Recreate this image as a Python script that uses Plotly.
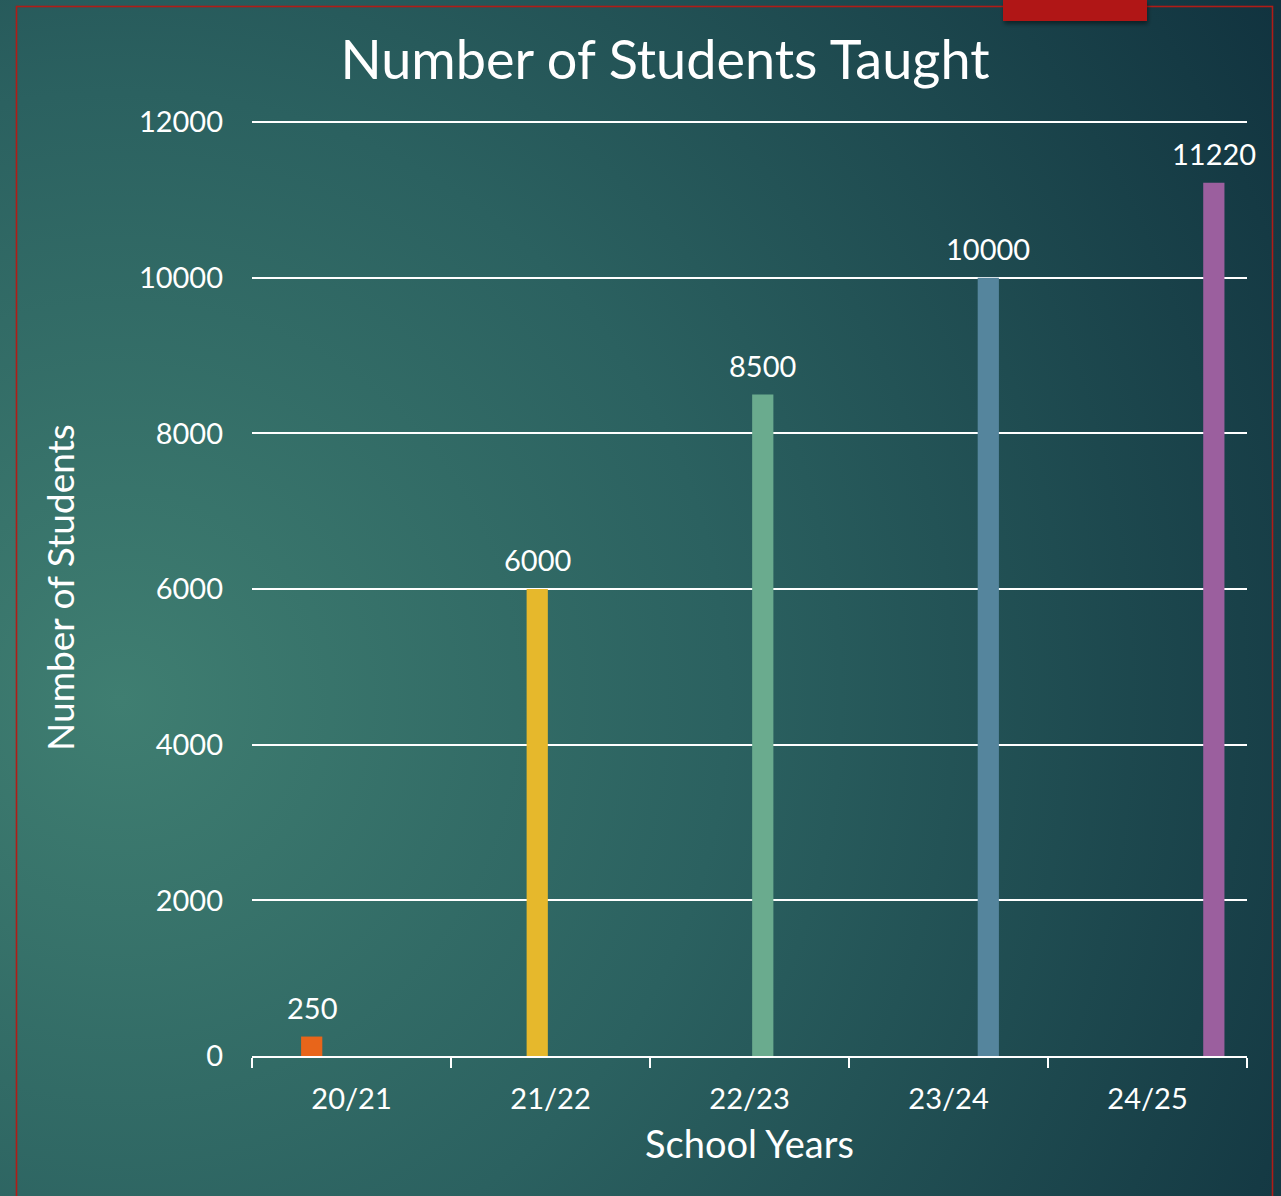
import base64
import plotly.graph_objects as go

# ---- data ----
school_years = ["20/21", "21/22", "22/23", "23/24", "24/25"]
series_names = ["", "20/21", "21/22", "22/23", "23/24", "24/25"]
series_values = [
    [None, None, None, None, None],
    [250, None, None, None, None],
    [None, 6000, None, None, None],
    [None, None, 8500, None, None],
    [None, None, None, 10000, None],
    [None, None, None, None, 11220],
]
series_colors = ["rgba(0,0,0,0)", "#e8651a", "#e6b82c", "#6aab8e", "#55859d", "#9b5f9e"]
y_ticks = [0, 2000, 4000, 6000, 8000, 10000, 12000]
y_max = 12040

W, H = 1281, 1196
ML, MR, MT, MB = 252, 34, 119, 140
PW, PH = W - ML - MR, H - MT - MB
BARGAP, GROUPGAP = 0.2, 0.2

FONT = "Lato, 'Open Sans', sans-serif"

# ---- background (radial gradient + red frame) as SVG ----
svg = f'''<svg xmlns="http://www.w3.org/2000/svg" width="{W}" height="{H}" viewBox="0 0 {W} {H}">
<defs>
<radialGradient id="g" gradientUnits="userSpaceOnUse" cx="120" cy="700" r="1350">
<stop offset="0" stop-color="#3f7e71"/>
<stop offset="0.45" stop-color="#2b6160"/>
<stop offset="1" stop-color="#11333f"/>
</radialGradient>
<filter id="s" x="-10%" y="-50%" width="120%" height="200%">
<feDropShadow dx="1" dy="3" stdDeviation="2" flood-color="#000" flood-opacity="0.45"/>
</filter>
</defs>
<rect x="0" y="0" width="{W}" height="{H}" fill="url(#g)"/>
<rect x="16.5" y="6.5" width="1256" height="1200" fill="none" stroke="#b01c17" stroke-width="1.6"/>
<rect x="1003" y="0" width="144" height="21" fill="#b01712" filter="url(#s)"/>
</svg>'''
svg_uri = "data:image/svg+xml;base64," + base64.b64encode(svg.encode()).decode()

fig = go.Figure()
n_series = len(series_names)
slot_px = (PW / len(school_years)) * (1 - BARGAP) / n_series
annotations = []
for i, (name, vals, col) in enumerate(zip(series_names, series_values, series_colors)):
    fig.add_trace(go.Bar(
        x=school_years, y=vals, name=name,
        marker=dict(color=col, line=dict(width=0)),
        showlegend=False, hoverinfo="x+y",
    ))
    for cat, v in zip(school_years, vals):
        if v is None:
            continue
        annotations.append(dict(
            x=cat, y=v, xref="x", yref="y", text=f"{v:.0f}", showarrow=False,
            xanchor="center", yanchor="bottom",
            xshift=(i - (n_series - 1) / 2) * slot_px, yshift=10,
            font=dict(size=29, color="white", family=FONT),
        ))

fig.update_layout(
    width=W, height=H,
    margin=dict(l=ML, r=MR, t=MT, b=MB),
    paper_bgcolor="#245857",
    plot_bgcolor="rgba(0,0,0,0)",
    barmode="group", bargap=BARGAP, bargroupgap=GROUPGAP,
    font=dict(family=FONT, color="white"),
    title=dict(text="Number of Students Taught", x=665 / W, xanchor="center",
               y=1 - 60 / H, yanchor="middle",
               font=dict(size=54, color="white", family=FONT)),
    annotations=annotations,
    images=[dict(source=svg_uri, xref="paper", yref="paper",
                 x=-ML / PW, y=1 + MT / PH, sizex=W / PW, sizey=H / PH,
                 xanchor="left", yanchor="top", sizing="stretch", layer="below")],
)

fig.update_xaxes(
    range=[-0.5, len(school_years) - 0.5],
    showgrid=False, showline=True, linecolor="white", linewidth=2,
    ticks="outside", tickson="boundaries", ticklen=10, tickwidth=2, tickcolor="white",
    ticklabelstandoff=16,
    tickfont=dict(size=29, color="white", family=FONT),
    title=dict(text="School Years", font=dict(size=38, color="white", family=FONT), standoff=18),
    zeroline=False,
)
fig.update_yaxes(
    range=[0, y_max], tickvals=y_ticks, ticktext=[str(v) for v in y_ticks],
    showgrid=True, gridcolor="white", gridwidth=2,
    zeroline=False, showline=False, ticks="",
    ticklabelstandoff=28,
    tickfont=dict(size=29, color="white", family=FONT),
    title=dict(text="Number of Students", font=dict(size=37, color="white", family=FONT), standoff=52),
)

fig.write_html("out.html", config={"displayModeBar": False},
               post_script="document.body.style.margin='0';document.body.style.overflow='hidden';")
